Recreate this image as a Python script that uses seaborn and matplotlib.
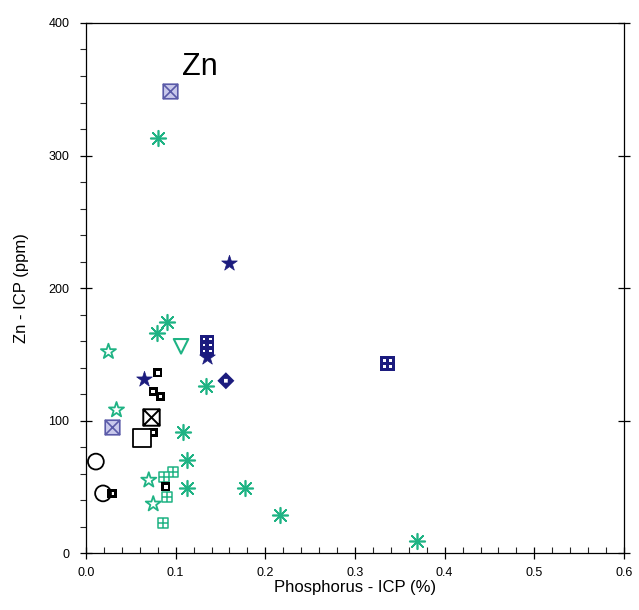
import matplotlib
matplotlib.use("Agg")
import matplotlib.pyplot as plt
from matplotlib.path import Path
from matplotlib.ticker import MultipleLocator, FormatStrFormatter
import seaborn as sns
import pandas as pd

# Phosphorus (%) vs Zn (ppm), grouped by symbol
ast_x = [0.080, 0.090, 0.079, 0.134, 0.108, 0.113, 0.113, 0.177, 0.216, 0.369]
ast_y = [313, 174, 166, 126, 91, 70, 49, 49, 29, 9]

ostar_x = [0.025, 0.034, 0.070, 0.075]
ostar_y = [152, 108, 55, 37]

tri_x = [0.106]
tri_y = [156]

gbox_x = [0.097, 0.087, 0.090, 0.086]
gbox_y = [61, 57, 42, 23]

nbox_x = [0.135, 0.135, 0.336]
nbox_y = [159, 155, 143]

nstar_x = [0.159, 0.135, 0.065]
nstar_y = [219, 148, 131]

diam_x = [0.156]
diam_y = [130]

pbx_x = [0.094, 0.029]
pbx_y = [349, 95]

kbx_x = [0.072]
kbx_y = [103]

ksq_x = [0.080, 0.075, 0.083, 0.075, 0.089, 0.029]
ksq_y = [136, 122, 118, 91, 50, 45]

bigsq_x = [0.062]
bigsq_y = [87]

circ_x = [0.011, 0.019]
circ_y = [69, 45]

M, L, C = Path.MOVETO, Path.LINETO, Path.CLOSEPOLY


def sq(cx, cy, h, ccw=True):
    pts = [(cx - h, cy - h), (cx + h, cy - h), (cx + h, cy + h), (cx - h, cy + h)]
    if not ccw:
        pts = pts[::-1]
    return pts + [pts[0]], [M, L, L, L, C]


def boxed(extra):
    v, c = sq(0, 0, 1)
    for a, b in extra:
        v += [a, b]
        c += [M, L]
    return Path(v, c)


box_plus = boxed([((0, -1), (0, 1)), ((-1, 0), (1, 0))])
box_x = boxed([((-1, -1), (1, 1)), ((-1, 1), (1, -1))])

# navy square with four holes
v, c = sq(0, 0, 1)
for cx, cy in [(-0.42, -0.42), (0.42, -0.42), (-0.42, 0.42), (0.42, 0.42)]:
    hv, hc = sq(cx, cy, 0.2, ccw=False)
    v += hv
    c += hc
win_sq = Path(v, c)

# black square with center hole
v, c = sq(0, 0, 1)
hv, hc = sq(0, 0, 0.38, ccw=False)
dot_sq = Path(v + hv, c + hc)

# diamond with center hole
dv = [(0, -1), (1, 0), (0, 1), (-1, 0), (0, -1)]
hv, hc = sq(0, 0, 0.22, ccw=False)
dot_diam = Path(dv + hv, [M, L, L, L, C] + hc)

green = "#1fb384"
navy = "#1c1c7e"
slate = "#5a5aa8"

groups = [
    (ast_x, ast_y, dict(marker=(8, 2, 0), s=125, color=green, linewidth=1.2)),
    (ostar_x, ostar_y, dict(marker="*", s=130, color=green, facecolor="none", edgecolor=green, linewidth=1.3)),
    (tri_x, tri_y, dict(marker="v", s=110, color=green, facecolor="none", edgecolor=green, linewidth=1.5)),
    (gbox_x, gbox_y, dict(marker=box_plus, s=55, color=green, facecolor="white", edgecolor=green, linewidth=1.1)),
    (nbox_x, nbox_y, dict(marker=win_sq, s=110, color=navy, edgecolor="none", linewidth=0)),
    (nstar_x, nstar_y, dict(marker="*", s=140, color=navy, edgecolor=navy, linewidth=0.5)),
    (diam_x, diam_y, dict(marker=dot_diam, s=150, color=navy, edgecolor="none", linewidth=0)),
    (pbx_x, pbx_y, dict(marker=box_x, s=110, color=slate, facecolor="#c9c9ec", edgecolor=slate, linewidth=1.2)),
    (kbx_x, kbx_y, dict(marker=box_x, s=140, color="black", facecolor="white", edgecolor="black", linewidth=1.4)),
    (ksq_x, ksq_y, dict(marker=dot_sq, s=45, color="black", edgecolor="none", linewidth=0)),
    (bigsq_x, bigsq_y, dict(marker="s", s=170, color="black", facecolor="white", edgecolor="black", linewidth=1.3)),
    (circ_x, circ_y, dict(marker="o", s=130, color="black", facecolor="none", edgecolor="black", linewidth=1.3)),
]

sns.set_style("ticks")
plt.rcParams["font.family"] = ["Liberation Sans", "DejaVu Sans"]
plt.rcParams["text.color"] = "black"
plt.rcParams["axes.labelcolor"] = "black"

fig = plt.figure(figsize=(6.39, 6.10), dpi=100)
ax = fig.add_axes([0.1346, 0.0934, 0.8419, 0.8689])

for gx, gy, kw in groups:
    df = pd.DataFrame({"P": gx, "Zn": gy})
    sns.scatterplot(data=df, x="P", y="Zn", ax=ax, zorder=3, **kw)

ax.set_xlim(0, 0.6)
ax.set_ylim(0, 400)
ax.xaxis.set_major_locator(MultipleLocator(0.1))
ax.xaxis.set_minor_locator(MultipleLocator(0.02))
ax.xaxis.set_major_formatter(FormatStrFormatter("%.1f"))
ax.yaxis.set_major_locator(MultipleLocator(100))
ax.yaxis.set_minor_locator(MultipleLocator(20))

ax.tick_params(axis="both", which="major", direction="inout", length=8, width=0.9,
               labelsize=9, colors="black")
ax.tick_params(axis="y", which="minor", direction="out", length=4, width=0.8)
ax.tick_params(axis="x", which="minor", direction="in", length=4, width=0.8)
ax.tick_params(axis="y", which="major", right=True, pad=8)
ax.tick_params(axis="x", which="major", pad=6)
for sp in ax.spines.values():
    sp.set_color("black")
    sp.set_linewidth(0.9)

ax.set_xlabel("Phosphorus - ICP (%)", fontsize=12, labelpad=1, color="black")
ax.set_ylabel("Zn - ICP (ppm)", fontsize=12, labelpad=14, color="black")
ax.text(0.107, 367, "Zn", fontsize=22, ha="left", va="center", color="black")

plt.savefig("out.png", dpi=100)
